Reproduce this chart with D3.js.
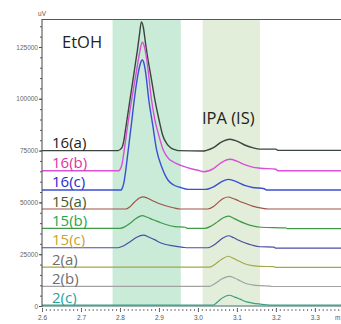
<!DOCTYPE html>
<html>
<head>
<meta charset="utf-8">
<script src="https://cdn.jsdelivr.net/npm/d3@7"></script>
<style>
  html, body { margin: 0; padding: 0; background: #fff; overflow: hidden; }
</style>
</head>
<body>
<div id="chart"></div>
<script>
// chromatogram traces, [retention time (min), signal (uV)]
const s16a = [[2.600,75000],[2.795,75000],[2.805,76400],[2.810,79800],[2.815,86100],[2.820,92400],[2.830,104900],[2.840,117500],[2.845,123700],[2.850,131000],[2.855,137100],[2.860,134400],[2.865,127600],[2.870,121100],[2.880,110200],[2.890,99100],[2.900,90000],[2.910,82200],[2.920,78400],[2.930,76400],[2.940,75500],[2.950,75000],[3.015,74800],[3.020,75000],[3.040,76400],[3.060,79100],[3.082,80500],[3.100,79600],[3.120,77700],[3.140,76400],[3.160,75700],[3.200,75700],[3.205,75100],[3.370,75100]]
const s16b = [[2.600,65300],[2.798,65300],[2.800,65780],[2.805,68200],[2.810,74000],[2.820,87500],[2.830,99600],[2.840,110700],[2.850,121800],[2.857,127300],[2.862,125600],[2.869,118700],[2.881,99400],[2.890,89400],[2.898,83500],[2.911,75300],[2.925,71100],[2.936,69600],[2.958,67700],[2.985,66100],[3.000,65500],[3.015,64800],[3.040,66300],[3.060,69200],[3.082,70800],[3.100,69900],[3.120,68200],[3.140,67000],[3.160,66500],[3.200,66000],[3.205,65300],[3.370,65300]]
const s16c = [[2.600,56000],[2.803,56000],[2.805,56500],[2.810,59400],[2.815,65700],[2.820,73400],[2.830,88800],[2.836,98500],[2.845,110500],[2.852,116800],[2.857,118700],[2.862,116800],[2.866,112500],[2.874,99400],[2.884,87400],[2.894,75300],[2.907,67200],[2.923,60800],[2.938,58400],[2.954,57300],[2.975,56300],[3.020,56300],[3.040,57500],[3.060,59900],[3.078,61100],[3.100,59900],[3.120,58200],[3.140,57200],[3.170,56600],[3.176,56000],[3.370,56000]]
const s15a = [[2.600,46800],[2.815,46800],[2.825,47800],[2.838,50300],[2.850,52100],[2.860,52700],[2.870,52100],[2.885,50700],[2.898,49600],[2.915,48500],[2.937,47400],[2.955,46800],[3.025,46800],[3.040,48000],[3.052,50000],[3.065,51900],[3.078,52600],[3.090,51900],[3.105,50700],[3.120,49600],[3.140,48200],[3.167,47100],[3.180,46800],[3.370,46800]]
const s15b = [[2.600,37500],[2.800,37500],[2.812,38200],[2.826,39900],[2.840,42100],[2.857,43600],[2.870,42800],[2.885,41600],[2.898,40700],[2.920,39200],[2.941,38300],[2.968,38000],[2.972,37500],[3.018,37500],[3.035,38700],[3.050,40600],[3.065,42600],[3.078,43400],[3.092,42300],[3.105,41100],[3.120,39900],[3.140,38700],[3.163,38000],[3.225,37700],[3.230,37300],[3.370,37300]]
const s15c = [[2.600,28100],[2.795,28100],[2.810,29100],[2.826,31000],[2.843,33200],[2.860,34200],[2.875,33200],[2.890,31900],[2.898,31000],[2.915,29800],[2.933,29100],[2.962,28300],[2.975,28100],[3.026,28100],[3.040,29300],[3.055,31500],[3.065,32900],[3.078,33900],[3.092,32900],[3.105,31700],[3.120,30500],[3.140,29300],[3.159,28600],[3.195,28400],[3.200,27900],[3.370,27900]]
const s2a = [[2.600,18800],[3.030,18800],[3.045,20300],[3.060,22400],[3.078,24000],[3.092,22900],[3.105,21700],[3.120,20400],[3.140,19500],[3.159,19100],[3.195,19000],[3.200,18600],[3.370,18600]]
const s2b = [[2.600,9500],[3.030,9500],[3.045,11000],[3.060,12900],[3.080,14300],[3.095,13400],[3.108,12200],[3.120,11100],[3.140,10200],[3.159,9800],[3.185,9600],[3.190,9400],[3.370,9400]]
const s2c = [[2.600,400],[3.038,400],[3.050,1900],[3.062,3800],[3.080,5200],[3.095,4300],[3.108,3300],[3.120,2300],[3.140,1400],[3.160,900],[3.175,600],[3.185,400],[3.370,400]]

const seriesNames = ['16(a)', '16(b)', '16(c)', '15(a)', '15(b)', '15(c)', '2(a)', '2(b)', '2(c)']
const seriesData = [s16a, s16b, s16c, s15a, s15b, s15c, s2a, s2b, s2c]
const lineColors = ['#3b443e', '#d94fd6', '#3a4fd4', '#a0524a', '#3f9a48', '#4a4fa6', '#a3a84a', '#a2a2a2', '#3a9f82']
const labelColors = ['#222222', '#e0359e', '#2a2ad0', '#3f5a2f', '#1ea84c', '#c9a22a', '#6e6e6e', '#6e6e6e', '#1fa3a3']

// shaded integration windows
const bandNames = ['EtOH', 'IPA (IS)']
const bandStarts = [2.781, 3.012]
const bandEnds = [2.956, 3.159]
const bandColors = ['#c9ebd8', '#e2eed9']

const yTicks = [0, 25000, 50000, 75000, 100000, 125000]
const xTicks = [2.6, 2.7, 2.8, 2.9, 3.0, 3.1, 3.2, 3.3]

const width = 341
const height = 324
const plotLeft = 42, plotTop = 19, plotRight = 341, plotBottom = 306

const x = d3.scaleLinear().domain([2.6, 3.367]).range([plotLeft, plotRight])
const y = d3.scaleLinear().domain([0, 138500]).range([plotBottom, plotTop])

const svg = d3
  .select('#chart')
  .append('svg')
  .attr('width', width)
  .attr('height', height)
  .style('display', 'block')
  .style('font-family', '"Open Sans", sans-serif')

svg.append('defs')
  .append('clipPath')
  .attr('id', 'plot-clip')
  .append('rect')
  .attr('x', plotLeft)
  .attr('y', plotTop)
  .attr('width', plotRight - plotLeft)
  .attr('height', plotBottom - plotTop + 1)

// bands
svg.append('g')
  .selectAll('rect')
  .data(bandNames)
  .join('rect')
  .attr('x', (d, i) => x(bandStarts[i]))
  .attr('width', (d, i) => x(bandEnds[i]) - x(bandStarts[i]))
  .attr('y', plotTop)
  .attr('height', plotBottom - plotTop)
  .attr('fill', (d, i) => bandColors[i])

// top border + bottom axis line
svg.append('line')
  .attr('x1', plotLeft).attr('x2', plotRight)
  .attr('y1', plotTop + 0.5).attr('y2', plotTop + 0.5)
  .attr('stroke', '#555').attr('stroke-width', 1)
svg.append('line')
  .attr('x1', plotLeft).attr('x2', plotRight)
  .attr('y1', plotBottom).attr('y2', plotBottom)
  .attr('stroke', '#7c9898').attr('stroke-width', 1.4)

// traces
const line = d3.line()
  .x((d) => x(d[0]))
  .y((d) => y(d[1]))
  .curve(d3.curveMonotoneX)

svg.append('g')
  .attr('clip-path', 'url(#plot-clip)')
  .selectAll('path')
  .data(seriesData)
  .join('path')
  .attr('d', line)
  .attr('fill', 'none')
  .attr('stroke', (d, i) => lineColors[i])
  .attr('stroke-width', (d, i) => (i < 3 ? 1.4 : 1.2))
  .attr('stroke-linejoin', 'round')

// y axis
const yAxis = svg.append('g')
  .attr('transform', `translate(${plotLeft},0)`)
  .call(d3.axisLeft(y).tickValues(yTicks).tickSize(3).tickPadding(1).tickFormat(d3.format('d')))
yAxis.select('.domain').attr('stroke', '#444').attr('d', `M0,${plotTop}V${plotBottom + 1}`)
yAxis.selectAll('.tick line').attr('stroke', '#444')
yAxis.selectAll('text').attr('font-size', 6.5).attr('fill', '#666').attr('font-family', 'Arial, "Liberation Sans", sans-serif')

svg.append('g')
  .attr('transform', `translate(${plotLeft},0)`)
  .call(d3.axisLeft(y).tickValues(d3.range(0, 138001, 5000)).tickSize(2).tickFormat(''))
  .call((g) => g.select('.domain').remove())
  .selectAll('.tick line').attr('stroke', '#555')

// x axis
const xAxis = svg.append('g')
  .attr('transform', `translate(0,${plotBottom + 2})`)
  .call(d3.axisBottom(x).tickValues(xTicks).tickSize(4).tickPadding(3).tickFormat(d3.format('.1f')))
xAxis.select('.domain').remove()
xAxis.selectAll('.tick line').attr('stroke', '#555')
xAxis.selectAll('text').attr('font-size', 6.5).attr('fill', '#555').attr('font-family', 'Arial, "Liberation Sans", sans-serif')

svg.append('g')
  .attr('transform', `translate(0,${plotBottom + 3})`)
  .call(d3.axisBottom(x).tickValues(d3.range(2.6, 3.365, 0.01)).tickSize(2).tickFormat(''))
  .call((g) => g.select('.domain').remove())
  .selectAll('.tick line').attr('stroke', '#777')

svg.append('text')
  .attr('x', 335).attr('y', 320)
  .attr('font-size', 6.5).attr('fill', '#555')
  .attr('font-family', 'Arial, "Liberation Sans", sans-serif')
  .text('m')

svg.append('text')
  .attr('x', plotLeft).attr('y', 16)
  .attr('text-anchor', 'middle')
  .attr('font-size', 6.5).attr('fill', '#555')
  .attr('font-family', 'Arial, "Liberation Sans", sans-serif')
  .text('uV')

// series labels sit on their baselines
svg.append('g')
  .selectAll('text')
  .data(seriesNames)
  .join('text')
  .attr('x', 52)
  .attr('y', (d, i) => y(seriesData[i][0][1]) - 2.5)
  .attr('font-size', 15)
  .attr('fill', (d, i) => labelColors[i])
  .text((d) => d)

// peak labels
svg.append('text')
  .attr('x', 62).attr('y', 47.5)
  .attr('font-size', 16.5).attr('fill', '#222')
  .text(bandNames[0])
svg.append('text')
  .attr('x', 202).attr('y', 124)
  .attr('font-size', 16.5).attr('fill', '#222')
  .text(bandNames[1])
</script>
</body>
</html>
